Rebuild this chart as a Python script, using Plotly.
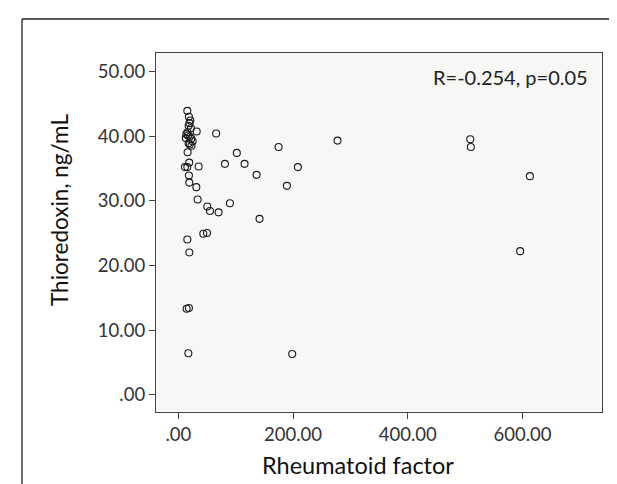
import plotly.graph_objects as go

# Data (Rheumatoid factor vs Thioredoxin)
rheumatoid_factor = [
    15.7, 18.5, 21.0, 19.5, 18.0, 22.0, 16.0, 14.0, 17.0, 20.0, 13.0, 22.5, 25.0, 18.0, 20.0, 23.0,
    32.0, 66.0, 16.2, 102.0, 19.0, 81.3, 115.5, 11.6, 15.7, 35.4, 136.5, 18.5, 19.2, 31.4,
    33.7, 90.0, 50.5, 55.2, 70.2, 141.6, 43.6, 50.0, 15.7, 19.2, 14.5, 18.5, 17.5,
    277.6, 174.8, 208.5, 189.3, 198.6, 509.0, 510.0, 613.0, 596.0,
]
thioredoxin = [
    43.9, 43.0, 42.4, 42.0, 41.6, 41.2, 40.6, 40.3, 40.1, 39.9, 39.7, 39.6, 39.2, 38.9, 38.7, 38.5,
    40.7, 40.4, 37.5, 37.4, 35.9, 35.7, 35.7, 35.2, 35.2, 35.3, 34.0, 33.9, 32.8, 32.1,
    30.2, 29.6, 29.1, 28.4, 28.2, 27.2, 24.9, 25.0, 24.0, 22.0, 13.3, 13.4, 6.4,
    39.3, 38.3, 35.2, 32.3, 6.3, 39.5, 38.3, 33.8, 22.2,
]
x_ticks = [0, 200, 400, 600]
x_tick_labels = [".00", "200.00", "400.00", "600.00"]
y_ticks = [0, 10, 20, 30, 40, 50]
y_tick_labels = [".00", "10.00", "20.00", "30.00", "40.00", "50.00"]
annotation_text = "R=-0.254, p=0.05"

FONT = "Lato, 'Open Sans', sans-serif"

W, H = 617, 484
l, r, t, b = 148, 23, 45, 80
pw, ph = W - l - r, H - t - b


def px(xp):
    return (xp - l) / pw


def py(yp):
    return (H - b - yp) / ph


fig = go.Figure()
fig.add_trace(go.Scatter(
    x=rheumatoid_factor, y=thioredoxin, mode="markers",
    marker=dict(symbol="circle-open", size=7, color="#1a1a1a", line=dict(width=1.1, color="#1a1a1a")),
    showlegend=False, hoverinfo="x+y",
))

axis_common = dict(
    showgrid=False, zeroline=False, showline=True, linecolor="#444444", linewidth=1.3,
    mirror=True, ticks="outside", ticklen=6, tickwidth=1, tickcolor="#444444",
    tickfont=dict(family=FONT, size=18.5, color="#333333"),
)
fig.update_xaxes(range=[-38.9, 738.7], tickvals=x_ticks, ticktext=x_tick_labels, **axis_common)
fig.update_yaxes(range=[-2.68, 52.85], tickvals=y_ticks, ticktext=y_tick_labels, **axis_common)

fig.update_layout(
    width=W, height=H,
    margin=dict(l=l, r=r, t=t, b=b),
    paper_bgcolor="white", plot_bgcolor="#f7f7f5",
    font=dict(family=FONT),
)

fig.add_annotation(x=px(582), y=py(69), xref="paper", yref="paper", text=annotation_text,
                   showarrow=False, font=dict(family=FONT, size=20, color="#222222"),
                   xanchor="right", yanchor="middle")
fig.add_annotation(x=px(350), y=py(457), xref="paper", yref="paper", text="Rheumatoid factor",
                   showarrow=False, font=dict(family=FONT, size=23.5, color="#111111"),
                   xanchor="center", yanchor="middle")
fig.add_annotation(x=px(52), y=py(202), xref="paper", yref="paper", text="Thioredoxin, ng/mL",
                   showarrow=False, textangle=-90, font=dict(family=FONT, size=22.5, color="#111111"),
                   xanchor="center", yanchor="middle")

# outer frame lines
fig.add_shape(type="line", xref="paper", yref="paper", x0=px(14), x1=px(14), y0=py(11), y1=py(490),
              line=dict(color="#222222", width=1.3))
fig.add_shape(type="line", xref="paper", yref="paper", x0=px(14), x1=px(615), y0=py(11), y1=py(11),
              line=dict(color="#222222", width=1.3))
fig.add_shape(type="line", xref="paper", yref="paper", x0=px(615), x1=px(615), y0=py(11), y1=py(490),
              line=dict(color="#cccccc", width=1))

fig.write_html("out.html")
